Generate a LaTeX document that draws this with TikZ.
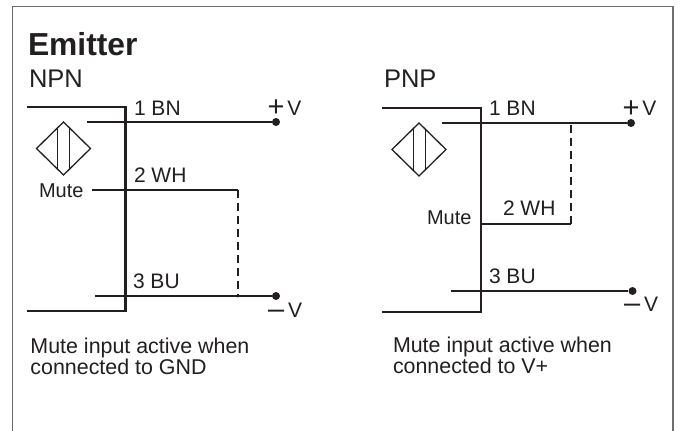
\documentclass[tikz,border=0pt]{standalone}
\usepackage{fontspec}
\setmainfont{Liberation Sans}
\definecolor{ink}{HTML}{231F20}
\definecolor{framegray}{HTML}{6E6E6E}
\newcommand{\szA}{\fontsize{21}{21}\selectfont}
\newcommand{\bigsign}[1]{\raisebox{-1.5pt}{\fontsize{29}{29}\selectfont #1}}
\tikzset{
  x=1pt,y=-1pt,
  lbl/.style={inner sep=0pt,outer sep=0pt,anchor=base west,text=ink,font=\szA},
  mutelbl/.style={lbl,font=\fontsize{20}{20}\selectfont},
  notelbl/.style={lbl,font=\fontsize{21.4}{21.4}\selectfont},
  sensorbody/.style={draw=ink,line width=2.3pt,line join=miter},
  wire/.style={draw=ink,line width=1.8pt},
  dashwire/.style={draw=ink,line width=1.4pt,dash pattern=on 8pt off 5pt},
  sym/.style={draw=ink,line width=1.3pt,line join=miter},
  terminal/.style={circle,fill=ink,inner sep=0pt,minimum size=8pt},
  framing/.style={draw=framegray,line width=1.5pt},
}
\begin{document}
\begin{tikzpicture}
\useasboundingbox (0,0) rectangle (681,431);
\fill[white] (0,0) rectangle (681,431);
% frame
\coordinate (fa) at (12.5,431);
\coordinate (fb) at (12.5,6.5);
\coordinate (fc) at (673,6.5);
\coordinate (fd) at (673,431);
\draw[framing] (fa) -- (fb) -- (fc) -- (fd);
% headings
\node[lbl,font=\fontsize{31.8}{31.8}\selectfont\bfseries] (title) at (28,55) {Emitter};
\node[lbl,font=\fontsize{25.5}{25.5}\selectfont] (npn) at (29,87) {NPN};
\node[lbl,font=\fontsize{25.5}{25.5}\selectfont] (pnp) at (384,87) {PNP};

% ---------- NPN ----------
\coordinate (nb1) at (27,107);
\coordinate (nb2) at (125.5,107);
\coordinate (nb3) at (125.5,310.7);
\coordinate (nb4) at (27,310.7);
\draw[sensorbody] (nb1) -- (nb2) -- (nb3) -- (nb4);
\node[terminal] (nvp) at (276,122) {};
\node[terminal] (nvm) at (276,296) {};
\coordinate (nw1) at (87,122);
\coordinate (nw2) at (92,190);
\coordinate (nw2e) at (238,190);
\coordinate (nw3) at (95,296);
\coordinate (nj) at (238,296);
\draw[wire] (nw1) -- (nvp);
\draw[wire] (nw2) -- (nw2e);
\draw[wire] (nw3) -- (nvm);
\draw[dashwire] (nw2e) -- (nj);
\fill[ink] (nj) circle (1.6pt);
% sensor symbol
\coordinate (nd1) at (36.5,148.5);
\coordinate (nd2) at (63.5,122);
\coordinate (nd3) at (90.5,148.5);
\coordinate (nd4) at (63.5,175);
\draw[sym] (nd1) -- (nd2) -- (nd3) -- (nd4) -- cycle;
\draw[sym] (57.7,127.8) -- (57.7,169.2);
\draw[sym] (69.7,127.8) -- (69.7,169.2);
% labels
\node[lbl] (n1) at (134,115) {1 BN};
\node[lbl] (n2) at (134,182) {2 WH};
\node[lbl] (n3) at (133,288) {3 BU};
\node[mutelbl] (nm) at (39,197) {Mute};
\node[lbl] (nplus) at (267.5,115) {\bigsign{+}\kern3pt V};
\node[lbl] (nminus) at (268,317) {\bigsign{–}\kern4pt V};
\node[notelbl] (nt1) at (30.5,353) {Mute input active when};
\node[notelbl] (nt2) at (30.5,374.5) {connected to GND};

% ---------- PNP ----------
\coordinate (pb1) at (382,108);
\coordinate (pb2) at (481,108);
\coordinate (pb3) at (481,311.7);
\coordinate (pb4) at (382,311.7);
\draw[sensorbody] (pb1) -- (pb2) -- (pb3) -- (pb4);
\node[terminal] (pvp) at (631,123) {};
\node[terminal] (pvm) at (632.5,291) {};
\coordinate (pw1) at (442,123);
\coordinate (pj) at (571,123);
\coordinate (pw2) at (481,224);
\coordinate (pw2e) at (571,224);
\coordinate (pw3) at (451,291);
\draw[wire] (pw1) -- (pvp);
\draw[wire] (pw2) -- (pw2e);
\draw[wire] (pw3) -- (pvm);
\draw[dashwire] (pw2e) -- (pj);
% sensor symbol
\coordinate (pd1) at (392,149.5);
\coordinate (pd2) at (419,123);
\coordinate (pd3) at (446,149.5);
\coordinate (pd4) at (419,176);
\draw[sym] (pd1) -- (pd2) -- (pd3) -- (pd4) -- cycle;
\draw[sym] (413.2,128.8) -- (413.2,170.2);
\draw[sym] (425.2,128.8) -- (425.2,170.2);
% labels
\node[lbl] (p1) at (489,115.5) {1 BN};
\node[lbl] (p2) at (503,215) {2 WH};
\node[lbl] (p3) at (489,283) {3 BU};
\node[mutelbl] (pm) at (427,224) {Mute};
\node[lbl] (pplus) at (622.5,115.5) {\bigsign{+}\kern3pt V};
\node[lbl] (pminus) at (624,311) {\bigsign{–}\kern4pt V};
\node[notelbl] (pt1) at (393,352) {Mute input active when};
\node[notelbl] (pt2) at (393,373) {connected to V+};
\end{tikzpicture}
\end{document}
